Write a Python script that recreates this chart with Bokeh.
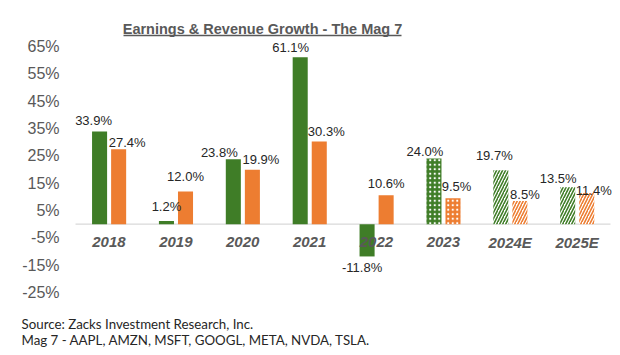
import numpy as np
from bokeh.plotting import figure
from bokeh.models import ColumnDataSource, Range1d
from bokeh.core.properties import value
from bokeh.embed import file_html
from bokeh.resources import INLINE

# ---- data ----
years = ["2018", "2019", "2020", "2021", "2022", "2023", "2024E", "2025E"]
earnings = [33.9, 1.2, 23.8, 61.1, -11.8, 24.0, 19.7, 13.5]
revenue = [27.4, 12.0, 19.9, 30.3, 10.6, 9.5, 8.5, 11.4]
y_ticks = [-25, -15, -5, 5, 15, 25, 35, 45, 55, 65]
title_text = "Earnings & Revenue Growth - The Mag 7"
notes = ["Source: Zacks Investment Research, Inc.",
         "Mag 7 - AAPL, AMZN, MSFT, GOOGL, META, NVDA, TSLA."]

# ---- style / layout ----
GREEN = "#3f7d27"
ORANGE = "#ed7d31"
GRAY = "#595959"
LBL = "#262626"
W, H = 620, 355
PX_X = 66.875           # px per category
PX_Y = 2.733            # px per percent
LEFT = 75               # frame x of first category edge
ZERO_Y = 223.7          # screen y of 0%
BAR_W = 0.225
OFF_G, OFF_O = -0.14, 0.145

# label nudges (px), as placed in the original chart
g_dx = [-6, 0, -14, -9.5, -5, -9, -6.5, -9.5]
g_dy = [11, 14, 7, 10, -11, 7, 15, 9]
o_dx = [8.5, 0, 8.5, 7, 0, 3.5, 5, 7]
o_dy = [7, 15, 10, 10, 12, 12, 6, 3]

x_start = -LEFT / PX_X
x_end = x_start + W / PX_X
y_end = ZERO_Y / PX_Y
y_start = y_end - H / PX_Y

p = figure(width=W, height=H, output_backend="svg", toolbar_location=None,
           x_range=Range1d(x_start, x_end), y_range=Range1d(y_start, y_end),
           x_axis_location=None, y_axis_location=None, min_border=0,
           background_fill_color="white", border_fill_color="white")
p.outline_line_color = None
p.xgrid.visible = False
p.ygrid.visible = False

n = len(years)
xc = np.arange(n) + 0.5

# baseline
p.line(x=[0, n], y=[0, 0], line_color="#d9d9d9", line_width=1.2)

kind = ["solid"] * 5 + ["dot"] + ["stripe"] * 2


def sub(idx, vals, off):
    return ColumnDataSource(dict(x=[xc[i] + off for i in idx], top=[vals[i] for i in idx]))


solid = [i for i in range(n) if kind[i] == "solid"]
dots = [i for i in range(n) if kind[i] == "dot"]
stripes = [i for i in range(n) if kind[i] == "stripe"]

for vals, off, col in [(earnings, OFF_G, GREEN), (revenue, OFF_O, ORANGE)]:
    p.vbar(x="x", top="top", bottom=0, width=BAR_W, source=sub(solid, vals, off),
           fill_color=col, line_color=None)
    p.vbar(x="x", top="top", bottom=0, width=BAR_W, source=sub(dots, vals, off),
           fill_color=col, line_color=None, hatch_pattern="dot",
           hatch_color="white", hatch_scale=4.5, hatch_weight=0.8)
    p.vbar(x="x", top="top", bottom=0, width=BAR_W, source=sub(stripes, vals, off),
           fill_color="white", line_color=None, hatch_pattern="right_diagonal_line",
           hatch_color=col, hatch_scale=6, hatch_weight=1.6)

# data labels
def fmt(v):
    return f"{v:.1f}%"

for vals, off, dx, dy in [(earnings, OFF_G, g_dx, g_dy), (revenue, OFF_O, o_dx, o_dy)]:
    src = ColumnDataSource(dict(
        x=list(xc + off), y=vals, t=[fmt(v) for v in vals],
        dx=dx, dy=[-d for d in dy]))
    p.text(x="x", y="y", text="t", x_offset="dx", y_offset="dy", source=src,
           text_font=value("Liberation Sans"), text_font_size="13px",
           text_color=LBL, text_align="center", text_baseline="middle")

# category labels
p.text(x=list(xc), y=[0] * n, text=years, y_offset=18,
       text_font=value("Liberation Sans"), text_font_size="15px",
       text_font_style="bold italic", text_color=GRAY,
       text_align="center", text_baseline="middle")

# y tick labels
p.text(x=[0] * len(y_ticks), y=y_ticks, text=[f"{t}%" for t in y_ticks],
       x_offset=-16, text_font=value("Liberation Sans"), text_font_size="16px",
       text_color=GRAY, text_align="right", text_baseline="middle")

# title with underline
tx = (262 - LEFT) / PX_X
p.text(x=[tx], y=[y_ticks[-1]], text=[title_text], y_offset=-18,
       text_font=value("Liberation Sans"), text_font_size="14.5px",
       text_font_style="bold", text_color=GRAY,
       text_align="center", text_baseline="middle")
ux0 = (123 - LEFT) / PX_X
ux1 = (401 - LEFT) / PX_X
uy = (ZERO_Y - 35) / PX_Y
p.line(x=[ux0, ux1], y=[uy, uy], line_color=GRAY, line_width=1.3)

# footnotes
p.text(x=[0, 0], y=[y_ticks[0]] * 2, text=notes, x_offset=-54, y_offset=[31, 47],
       text_font=value("Lato"), text_font_size="13.3px", text_color=LBL,
       text_align="left", text_baseline="middle")

open("out.html", "w").write(file_html(p, INLINE))
